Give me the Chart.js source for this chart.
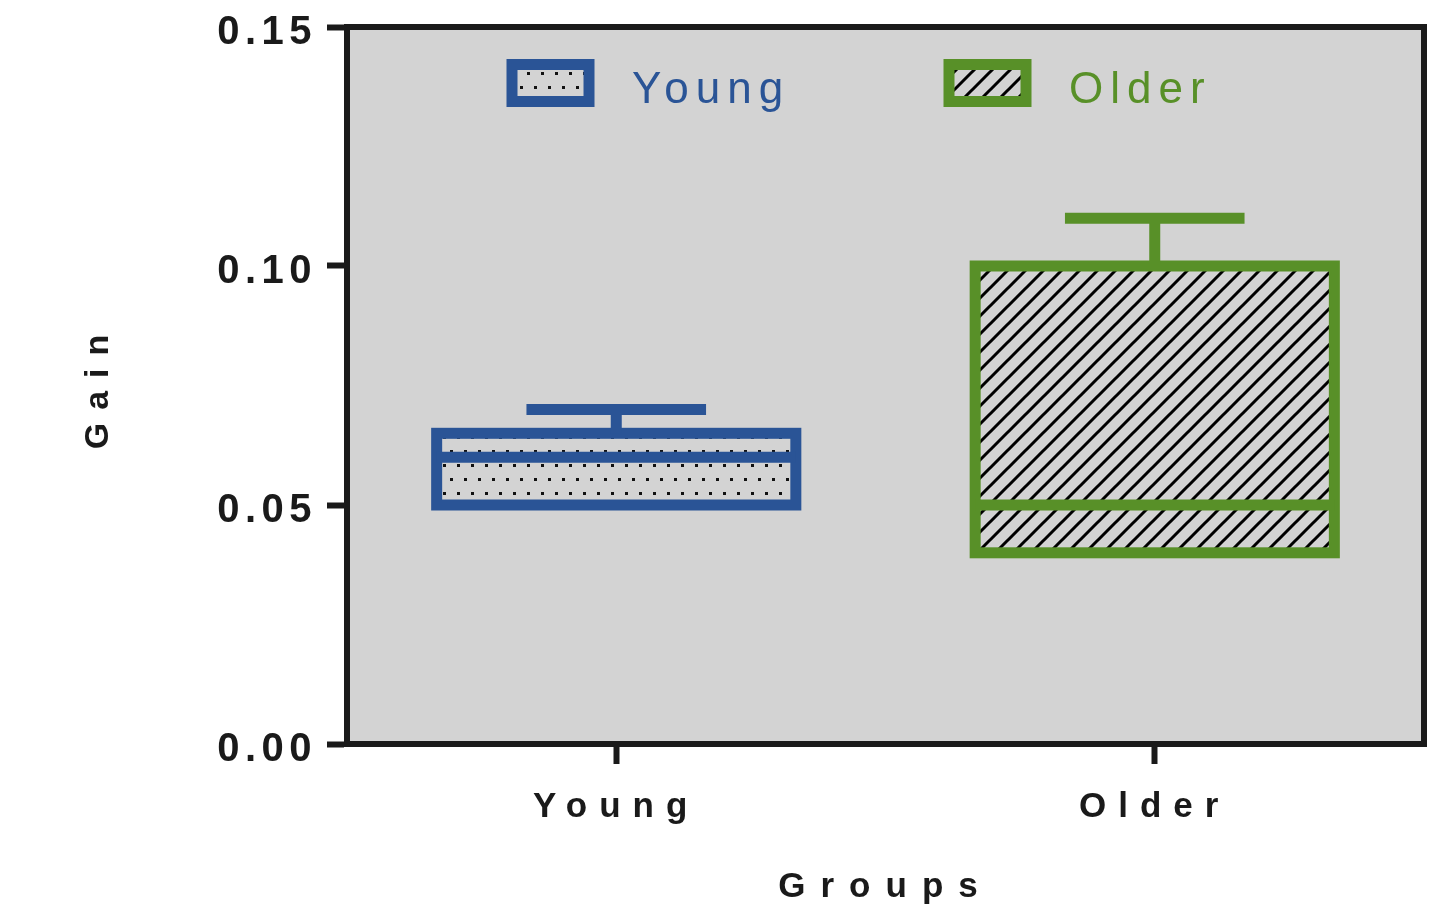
<!DOCTYPE html>
<html>
<head>
<meta charset="utf-8">
<title>Gain by group</title>
<script src="https://cdn.jsdelivr.net/npm/chart.js@4.4.1/dist/chart.umd.min.js"></script>
<style>
  body { margin: 0; background: #fff; }
  canvas { display: block; }
</style>
</head>
<body>
<canvas id="gainChart" width="1447" height="911"></canvas>
<script>
// values
const categories = ['Young', 'Older'];
const boxLow = [0.05, 0.04];
const boxHigh = [0.065, 0.10];
const medians = [0.06, 0.05];
const whiskerHigh = [0.07, 0.11];
const yTicks = [0, 0.05, 0.10, 0.15];

const FONT = '"Liberation Sans", Arial, Helvetica, sans-serif';
const axisColor = '#1a1a1a';
const plotBg = '#d3d3d3';
const blue = '#2a5496';
const green = '#589028';

const canvas = document.getElementById('gainChart');
const mainCtx = canvas.getContext('2d');

function dotPattern() {
  const c = document.createElement('canvas');
  c.width = 14; c.height = 28;
  const g = c.getContext('2d');
  g.fillStyle = '#111';
  g.fillRect(2, 2, 3, 3);
  g.fillRect(9, 16, 3, 3);
  return mainCtx.createPattern(c, 'repeat');
}

function hatchPattern() {
  const s = 18;
  const c = document.createElement('canvas');
  c.width = s; c.height = s;
  const g = c.getContext('2d');
  g.strokeStyle = '#000';
  g.lineWidth = 3;
  g.beginPath();
  g.moveTo(0, s); g.lineTo(s, 0);
  g.moveTo(-3, 3); g.lineTo(3, -3);
  g.moveTo(s - 3, s + 3); g.lineTo(s + 3, s - 3);
  g.stroke();
  return mainCtx.createPattern(c, 'repeat');
}

const fills = [dotPattern(), hatchPattern()];
const strokes = [blue, green];

// canvas text has no letter-spacing option in Chart.js, so add it around the scale text
const spacing = {
  x: { drawLabels: '12px', drawTitle: '15px' },
  y: { drawLabels: '5.5px', drawTitle: '13px' }
};
['drawLabels', 'drawTitle'].forEach(name => {
  const orig = Chart.Scale.prototype[name];
  Chart.Scale.prototype[name] = function (...args) {
    const sp = spacing[this.id];
    this.ctx.save();
    if (sp) this.ctx.letterSpacing = sp[name];
    orig.apply(this, args);
    this.ctx.restore();
  };
});

const plotArea = {
  id: 'plotArea',
  beforeDraw(chart) {
    const { ctx, chartArea: a } = chart;
    ctx.save();
    ctx.fillStyle = plotBg;
    ctx.fillRect(a.left, a.top, a.right - a.left, a.bottom - a.top);
    ctx.restore();
  },
  afterDraw(chart) {
    const { ctx, chartArea: a } = chart;
    ctx.save();
    ctx.strokeStyle = axisColor;
    ctx.lineWidth = 6;
    ctx.strokeRect(a.left, a.top, a.right - a.left, a.bottom - a.top);
    ctx.restore();
  }
};

// box outline, median line and upper whisker for each group
const boxLines = {
  id: 'boxLines',
  afterDatasetsDraw(chart) {
    const { ctx } = chart;
    const y = chart.scales.y;
    chart.data.datasets.forEach((ds, i) => {
      const bar = chart.getDatasetMeta(i).data[i];
      const left = bar.x - bar.width / 2;
      const right = bar.x + bar.width / 2;
      const top = y.getPixelForValue(boxHigh[i]);
      const bottom = y.getPixelForValue(boxLow[i]);
      const med = y.getPixelForValue(medians[i]);
      const wh = y.getPixelForValue(whiskerHigh[i]);
      ctx.save();
      ctx.strokeStyle = ds.borderColor;
      ctx.lineWidth = 11;
      ctx.lineCap = 'butt';
      ctx.strokeRect(left, top, right - left, bottom - top);
      ctx.beginPath();
      ctx.moveTo(left, med); ctx.lineTo(right, med);
      ctx.moveTo(bar.x, top); ctx.lineTo(bar.x, wh);
      ctx.moveTo(bar.x - bar.width / 4, wh); ctx.lineTo(bar.x + bar.width / 4, wh);
      ctx.stroke();
      ctx.restore();
    });
  }
};

const boxLegend = {
  id: 'boxLegend',
  afterDraw(chart) {
    const { ctx } = chart;
    chart.data.datasets.forEach((ds, i) => {
      const x = 512 + i * 437;
      ctx.save();
      ctx.fillStyle = ds.backgroundColor;
      ctx.fillRect(x, 64.5, 77, 37);
      ctx.strokeStyle = ds.borderColor;
      ctx.lineWidth = 11;
      ctx.strokeRect(x, 64.5, 77, 37);
      ctx.fillStyle = ds.borderColor;
      ctx.font = '44px ' + FONT;
      ctx.letterSpacing = '7px';
      ctx.textBaseline = 'alphabetic';
      ctx.fillText(ds.label, x + 120, 103);
      ctx.restore();
    });
  }
};

new Chart(canvas, {
  type: 'bar',
  data: {
    labels: categories,
    datasets: categories.map((name, i) => ({
      label: name,
      data: categories.map((c, j) => (j === i ? [boxLow[i], boxHigh[i]] : null)),
      backgroundColor: fills[i],
      borderColor: strokes[i],
      borderWidth: 0
    }))
  },
  options: {
    responsive: false,
    animation: false,
    layout: { padding: { top: 27, right: 23, left: 0, bottom: 0 } },
    datasets: {
      bar: { grouped: false, barPercentage: 0.667, categoryPercentage: 1 }
    },
    plugins: {
      legend: { display: false },
      tooltip: { enabled: false }
    },
    scales: {
      x: {
        grid: { offset: false, drawOnChartArea: false, tickLength: 20, tickWidth: 6, tickColor: axisColor },
        border: { width: 6, color: axisColor },
        ticks: { color: axisColor, padding: 22, font: { family: FONT, size: 35, weight: 'bold' } },
        title: {
          display: true, text: 'Groups', color: axisColor,
          font: { family: FONT, size: 35, weight: 'bold' },
          padding: { top: 0, bottom: 3 }
        },
        afterFit: s => { s.height = 167; s.paddingLeft = 0; s.paddingRight = 0; }
      },
      y: {
        min: 0,
        max: 0.15,
        afterBuildTicks: s => { s.ticks = yTicks.map(v => ({ value: v })); },
        grid: { drawOnChartArea: false, tickLength: 20, tickWidth: 6, tickColor: axisColor },
        border: { width: 6, color: axisColor },
        ticks: {
          color: axisColor, padding: 10, labelOffset: 6,
          font: { family: FONT, size: 40, weight: 'bold' },
          callback: v => Number(v).toFixed(2)
        },
        title: {
          display: true, text: 'Gain', color: axisColor,
          font: { family: FONT, size: 34, weight: 'bold' },
          padding: { top: 78, bottom: 0 }
        },
        afterFit: s => { s.width = 347; s.paddingTop = 0; s.paddingBottom = 0; }
      }
    }
  },
  plugins: [plotArea, boxLines, boxLegend]
});
</script>
</body>
</html>
